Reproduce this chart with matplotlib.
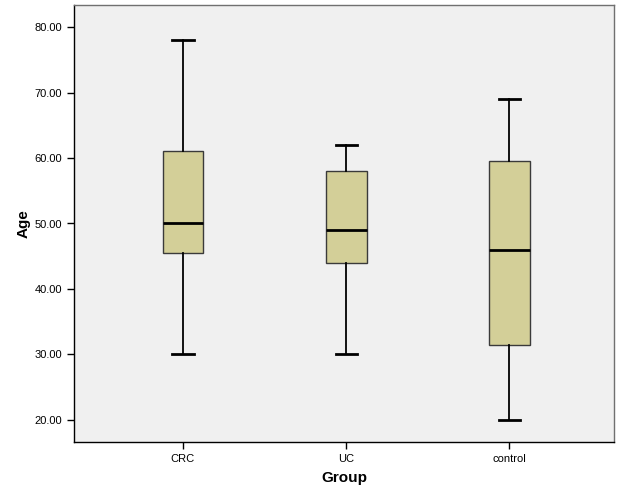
import matplotlib
matplotlib.use('Agg')
import matplotlib.pyplot as plt
from matplotlib.ticker import FormatStrFormatter

# Значения боксплотов по группам
groups = ['CRC', 'UC', 'control']
whisker_low = [30.0, 30.0, 20.0]
q1 = [45.5, 44.0, 31.5]
median = [50.0, 49.0, 46.0]
q3 = [61.0, 58.0, 59.5]
whisker_high = [78.0, 62.0, 69.0]
y_ticks = [20, 30, 40, 50, 60, 70, 80]

plt.rcParams['font.family'] = ['Liberation Sans', 'DejaVu Sans']

stats = []
for name, lo, a, m, b, hi in zip(groups, whisker_low, q1, median, q3, whisker_high):
    stats.append({'label': name, 'whislo': lo, 'q1': a, 'med': m,
                  'q3': b, 'whishi': hi, 'fliers': []})

fig = plt.figure(figsize=(6.26, 5.01), dpi=100)
ax = fig.add_axes([74 / 626, 59 / 501, 540 / 626, 437 / 501])
ax.set_facecolor('#f0f0f0')

ax.bxp(stats, positions=[1, 2, 3], widths=0.25, patch_artist=True,
       showfliers=False,
       boxprops=dict(facecolor='#d3cf98', edgecolor='#3a3a3a', linewidth=1),
       medianprops=dict(color='black', linewidth=2),
       whiskerprops=dict(color='black', linewidth=1.3),
       capprops=dict(color='black', linewidth=2),
       capwidths=0.13)

ax.set_xlim(0.333, 3.64)
ax.set_ylim(16.64, 83.36)
ax.set_yticks(y_ticks)
ax.yaxis.set_major_formatter(FormatStrFormatter('%.2f'))
ax.set_xticks([1, 2, 3])
ax.set_xticklabels(groups)
ax.tick_params(axis='both', labelsize=8, length=5, width=1, color='black',
               direction='out')

for side in ['left', 'bottom']:
    ax.spines[side].set_color('black')
    ax.spines[side].set_linewidth(1)
for side in ['top', 'right']:
    ax.spines[side].set_color('#707070')
    ax.spines[side].set_linewidth(1)

ax.set_ylabel('Age', fontsize=11, fontweight='bold', labelpad=3)
ax.set_xlabel('Group', fontsize=11, fontweight='bold', labelpad=5)

plt.savefig('out.png', dpi=100, facecolor='white')
plt.close()
